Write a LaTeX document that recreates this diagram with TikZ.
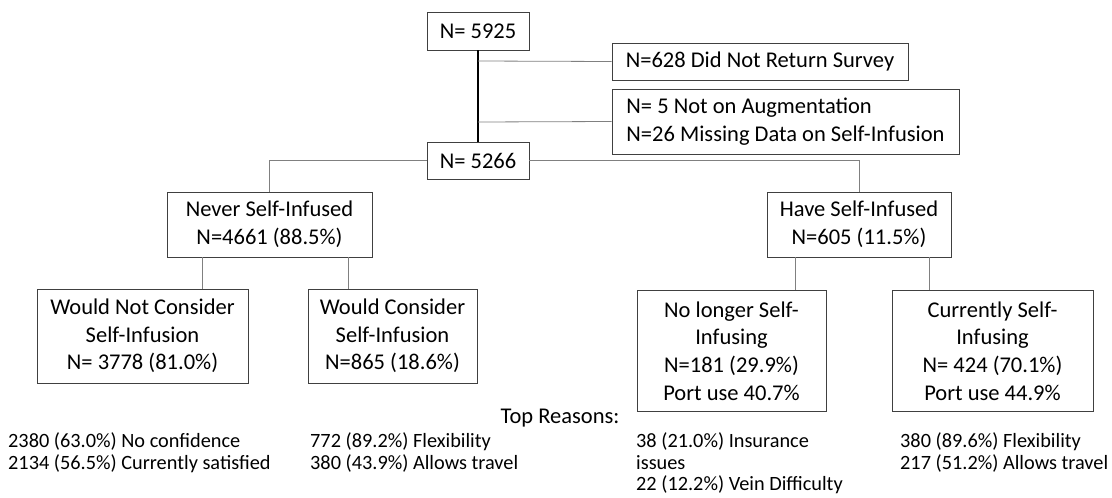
\documentclass[tikz,border=0pt]{standalone}
\usepackage{fontspec}
\setmainfont{Carlito}
\tikzset{
  flowbox/.style={draw=black!75, line width=0.9pt, inner sep=0pt, align=center,
    font=\fontsize{22.5}{27.6}\selectfont},
  link/.style={draw=black!50, line width=0.8pt},
  reason/.style={anchor=west, inner sep=0pt, align=left,
    font=\fontsize{20.3}{21.5}\selectfont}
}
\begin{document}
\begin{tikzpicture}[x=1pt,y=-1pt]
    \useasboundingbox (0,0) rectangle (1112,498);
    % survey boxes
    \node[flowbox, minimum width=102pt, minimum height=38pt] (total) at (478,31) {N= 5925};
    \node[flowbox, minimum width=296pt, minimum height=37pt] (noret) at (760,61.5) {N=628 Did Not Return Survey};
    \node[flowbox, align=left, minimum width=347pt, minimum height=65pt] (excl) at (785.5,121.5) {N= 5 Not on Augmentation\\N=26 Missing Data on Self-Infusion};
    \node[flowbox, minimum width=102pt, minimum height=37pt] (valid) at (478,160.5) {N= 5266};
    % first split
    \node[flowbox, minimum width=205pt, minimum height=65pt] (never) at (269.5,224.5) {Never Self-Infused\\N=4661 (88.5\%)};
    \node[flowbox, minimum width=184pt, minimum height=65pt] (have) at (859,224.5) {Have Self-Infused\\N=605 (11.5\%)};
    % second split
    \node[flowbox, minimum width=211pt, minimum height=94pt] (wnc) at (142.5,336) {Would Not Consider\\Self-Infusion\\N= 3778 (81.0\%)};
    \node[flowbox, minimum width=169pt, minimum height=94pt] (wc) at (392.5,336) {Would Consider\\Self-Infusion\\N=865 (18.6\%)};
    \node[flowbox, minimum width=189pt, minimum height=121pt] (nolong) at (731.5,351) {No longer Self-\\Infusing\\N=181 (29.9\%)\\Port use 40.7\%};
    \node[flowbox, minimum width=201pt, minimum height=121pt] (curr) at (992.5,351) {Currently Self-\\Infusing\\N= 424 (70.1\%)\\Port use 44.9\%};
    % connectors
    \draw[line width=1.4pt] (total.south) -- (valid.north);
    \coordinate (b1) at (478,61);
    \coordinate (b2) at (478,122);
    \draw[link] (b1) -- (noret.west);
    \draw[link] (b2) -- (excl.west);
    \draw[link] (valid.west) -| (never.north);
    \draw[link] (valid.east) -| (have.north);
    \draw[link] ([xshift=-67.5]never.south) -- ([xshift=-67.5]never.south |- wnc.north);
    \draw[link] ([xshift=78.5]never.south) -- ([xshift=78.5]never.south |- wc.north);
    \draw[link] ([xshift=-64]have.south) -- ([xshift=-64]have.south |- nolong.north);
    \draw[link] ([xshift=70]have.south) -- ([xshift=70]have.south |- curr.north);
    % reasons
    \node[font=\fontsize{22.5}{27.6}\selectfont, inner sep=0pt] (top) at (560,418) {Top Reasons:};
    \node[reason] (rwnc) at (8,452.5) {2380 (63.0\%) No confidence\\2134 (56.5\%) Currently satisfied};
    \node[reason] (rwc) at (310,452.5) {772 (89.2\%) Flexibility\\380 (43.9\%) Allows travel};
    \node[reason] (rnolong) at (636,463.5) {38 (21.0\%) Insurance\\issues\\22 (12.2\%) Vein Difficulty};
    \node[reason] (rcurr) at (900,452.5) {380 (89.6\%) Flexibility\\217 (51.2\%) Allows travel};
\end{tikzpicture}
\end{document}
